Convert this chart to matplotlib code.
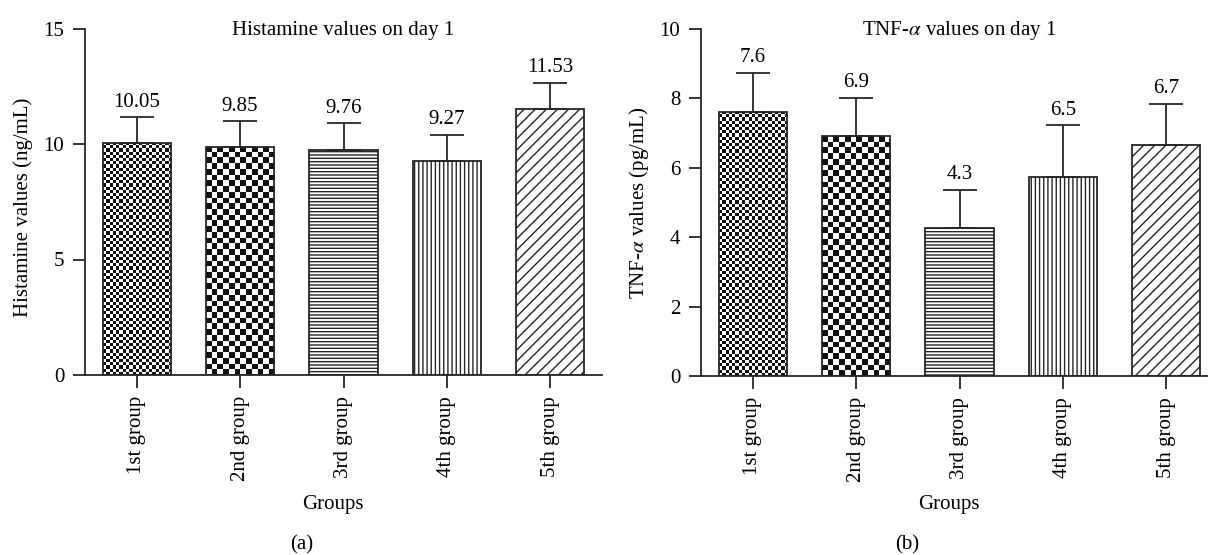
import numpy as np
import matplotlib
matplotlib.use('Agg')
import matplotlib.pyplot as plt
from matplotlib.colors import ListedColormap

groups = ['1st group', '2nd group', '3rd group', '4th group', '5th group']
hist_values = [10.05, 9.88, 9.76, 9.27, 11.53]
hist_errors = [1.11, 1.10, 1.14, 1.13, 1.13]
hist_labels = ['10.05', '9.85', '9.76', '9.27', '11.53']
tnf_values = [7.61, 6.91, 4.26, 5.74, 6.67]
tnf_errors = [1.13, 1.11, 1.10, 1.49, 1.17]
tnf_labels = ['7.6', '6.9', '4.3', '6.5', '6.7']

fills = ['checker_fine', 'checker', '-----', '||||', '///']
EC = '#262626'
FS = 15

plt.rcParams['font.family'] = ['Liberation Serif', 'DejaVu Serif']
plt.rcParams['mathtext.fontset'] = 'stix'
plt.rcParams['hatch.linewidth'] = 1.0
plt.rcParams['hatch.color'] = EC

fig = plt.figure(figsize=(12.08, 5.55), dpi=100)
W, H = 1208, 555


def draw_panel(left_px, bottom_px, top_px, values, errors, labels, ymax, yticks,
               title, ylabel, ylabel_y, caption, caption_x):
    ax_w = 517
    ax = fig.add_axes([left_px / W, (H - bottom_px) / H, ax_w / W, (bottom_px - top_px) / H])
    x = np.arange(len(groups))
    ax.set_xlim(-0.5, 4.5)
    ax.set_ylim(0, ymax)
    bars = ax.bar(x, values, width=0.66, facecolor='none', edgecolor=EC,
                  linewidth=1.3, zorder=3)
    for b, f in zip(bars, fills):
        if f.startswith('checker'):
            cell = 3.2 if f == 'checker_fine' else 5.7
            x0, y0 = b.get_x(), b.get_y()
            x1, y1 = x0 + b.get_width(), y0 + b.get_height()
            (px0, py0), (px1, py1) = ax.transData.transform([(x0, y0), (x1, y1)])
            nx = max(1, int(round((px1 - px0) / cell)))
            ny = max(1, int(round((py1 - py0) / cell)))
            arr = np.add.outer(np.arange(ny), np.arange(nx)) % 2
            im = ax.imshow(arr, cmap=ListedColormap(['white', '#111111']),
                           extent=(x0, x1, y0, y1), origin='lower', aspect='auto',
                           interpolation='nearest', zorder=2)
            im.set_clip_path(b)
        else:
            b.set_hatch(f)
    ax.set_xlim(-0.5, 4.5)
    ax.set_ylim(0, ymax)
    ax.errorbar(x, values, yerr=[np.zeros(len(values)), errors], fmt='none',
                ecolor=EC, elinewidth=1.3, capsize=12, capthick=1.3, zorder=4)
    for xi, v, e, l in zip(x, values, errors, labels):
        ax.annotate(l, (xi, v + e), xytext=(0, 4), textcoords='offset points',
                    ha='center', va='bottom', fontsize=FS)
    for s in ['top', 'right']:
        ax.spines[s].set_visible(False)
    for s in ['left', 'bottom']:
        ax.spines[s].set_color(EC)
        ax.spines[s].set_linewidth(1.3)
    ax.set_yticks(yticks)
    ax.set_xticks(x, groups, rotation=90)
    ax.tick_params(axis='both', direction='out', length=9, width=1.3, color=EC,
                   labelsize=FS, pad=6)
    ax.text(0.5, 0.982, title, transform=ax.transAxes, ha='center', va='baseline',
            fontsize=FS)
    ax.text(-62 / ax_w, ylabel_y, ylabel, transform=ax.transAxes, rotation=90,
            ha='center', va='center', fontsize=FS)
    ax.text(0.48, -(505 - bottom_px) / (bottom_px - top_px), 'Groups',
            transform=ax.transAxes, ha='center', va='center', fontsize=FS)
    ax.set_facecolor('none')
    fig.text(caption_x / W, 1 - 545 / H, caption, ha='center', va='center', fontsize=FS)
    return ax


draw_panel(85, 375, 28.5, hist_values, hist_errors, hist_labels, 15, [0, 5, 10, 15],
           'Histamine values on day 1', 'Histamine values (ng/mL)', 0.485, '(a)', 302)
draw_panel(701, 376, 29, tnf_values, tnf_errors, tnf_labels, 10, [0, 2, 4, 6, 8, 10],
           r'TNF-$\alpha$ values on day 1', r'TNF-$\alpha$ values (pg/mL)', 0.5, '(b)', 907)

fig.savefig('out.png', dpi=100)
